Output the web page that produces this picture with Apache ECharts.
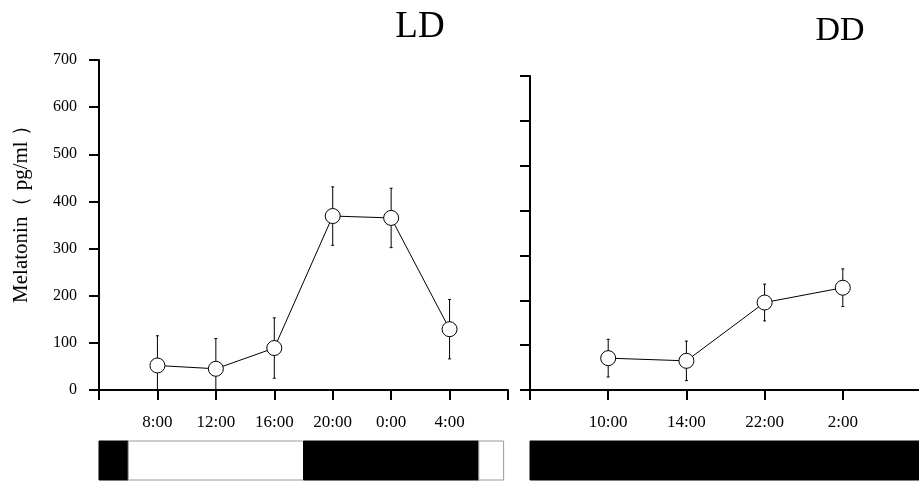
<!DOCTYPE html>
<html>
<head>
<meta charset="utf-8">
<script src="https://cdn.jsdelivr.net/npm/echarts@6.0.0/dist/echarts.min.js"></script>
<style>
    html, body { margin: 0; padding: 0; background: #fff; }
    #main { width: 919px; height: 481px; }
</style>
</head>
<body>
<div id="main"></div>
<script>
// LD 组（光照/黑暗）
var ldHours = [8, 12, 16, 20, 24, 28];
var ldTickLabels = ['8:00', '12:00', '16:00', '20:00', '0:00', '4:00'];
var ldMean = [52, 45, 89, 369, 365, 129];
var ldSem = [63, 64, 64, 62, 63, 63];

// DD 组（持续黑暗）
var ddPos = [1, 2, 3, 4];
var ddTickLabels = ['10:00', '14:00', '22:00', '2:00'];
var ddMean = [71, 65, 195, 228];
var ddSem = [42, 44, 41, 42];

// 光照条: [开始, 结束, 1=黑暗 0=光照]
var ldLightBars = [[4, 6, 1], [6, 18, 0], [18, 30, 1], [30, 31.7, 0]];
var ddLightBars = [[0, 5, 1]];

var serif = '"Liberation Serif", "DejaVu Serif", serif';

function errorBars(mean, sem, pos) {
    return pos.map(function (p, i) {
        return [p, mean[i] - sem[i], mean[i] + sem[i]];
    });
}

function renderErrorBar(params, api) {
    var x = api.value(0);
    var lo = Math.max(0, api.value(1));
    var hi = api.value(2);
    var top = api.coord([x, hi]);
    var bot = api.coord([x, lo]);
    var cap = 1.5;
    var st = { stroke: '#000', lineWidth: 1 };
    return {
        type: 'group',
        children: [
            { type: 'line', shape: { x1: top[0], y1: top[1], x2: bot[0], y2: bot[1] }, style: st },
            { type: 'line', shape: { x1: top[0] - cap, y1: top[1], x2: top[0] + cap, y2: top[1] }, style: st },
            { type: 'line', shape: { x1: bot[0] - cap, y1: bot[1], x2: bot[0] + cap, y2: bot[1] }, style: st }
        ]
    };
}

function renderLightBar(params, api) {
    var p1 = api.coord([api.value(0), 1]);
    var p2 = api.coord([api.value(1), 0]);
    var dark = api.value(2) === 1;
    return {
        type: 'rect',
        shape: { x: p1[0], y: p1[1], width: p2[0] - p1[0], height: p2[1] - p1[1] },
        style: dark ? { fill: '#000', stroke: '#000', lineWidth: 1 } : { fill: '#fff', stroke: '#9a9a9a', lineWidth: 1 }
    };
}

var axisLineStyle = { color: '#000', width: 2 };

var myChart = echarts.init(document.getElementById('main'));

var option = {
    animation: false,
    backgroundColor: '#fff',
    graphic: [
        { type: 'text', x: 420, y: 27, style: { text: 'LD', font: '37px ' + serif, fill: '#000', align: 'center', verticalAlign: 'middle' } },
        { type: 'text', x: 840, y: 31, style: { text: 'DD', font: '34px ' + serif, fill: '#000', align: 'center', verticalAlign: 'middle' } }
    ],
    grid: [
        { left: 99, top: 60, width: 409, height: 330, outerBoundsMode: 'none' },
        { left: 530, top: 76, width: 391, height: 314, outerBoundsMode: 'none' },
        { left: 99, top: 441, width: 409, height: 39, outerBoundsMode: 'none' },
        { left: 530, top: 441, width: 391, height: 39, outerBoundsMode: 'none' }
    ],
    xAxis: [
        {
            gridIndex: 0, type: 'value', min: 4, max: 32, interval: 4,
            axisLine: { lineStyle: axisLineStyle },
            axisTick: { length: 10, lineStyle: axisLineStyle },
            splitLine: { show: false },
            axisLabel: {
                margin: 24, color: '#000', fontFamily: serif, fontSize: 17,
                formatter: function (v) {
                    var i = ldHours.indexOf(v);
                    return i >= 0 ? ldTickLabels[i] : '';
                }
            }
        },
        {
            gridIndex: 1, type: 'value', min: 0, max: 5, interval: 1,
            axisLine: { lineStyle: axisLineStyle },
            axisTick: { length: 10, lineStyle: axisLineStyle },
            splitLine: { show: false },
            axisLabel: {
                margin: 24, color: '#000', fontFamily: serif, fontSize: 17,
                formatter: function (v) {
                    var i = ddPos.indexOf(v);
                    return i >= 0 ? ddTickLabels[i] : '';
                }
            }
        },
        { gridIndex: 2, type: 'value', min: 4, max: 32, show: false },
        { gridIndex: 3, type: 'value', min: 0, max: 5, show: false }
    ],
    yAxis: [
        {
            gridIndex: 0, type: 'value', min: 0, max: 700, interval: 100,
            name: 'Melatonin（ pg/ml ）',
            nameLocation: 'middle', nameGap: 67, nameRotate: 90,
            nameTextStyle: { color: '#000', fontFamily: serif, fontSize: 21, padding: [0, 0, 0, 32] },
            axisLine: { show: true, lineStyle: axisLineStyle },
            axisTick: { show: true, length: 10, lineStyle: axisLineStyle },
            splitLine: { show: false },
            axisLabel: { margin: 22, color: '#000', fontFamily: serif, fontSize: 16, padding: [0, 0, 14, 0] }
        },
        {
            gridIndex: 1, type: 'value', min: 0, max: 700, interval: 100,
            axisLine: { show: true, lineStyle: axisLineStyle },
            axisTick: { show: true, length: 10, lineStyle: axisLineStyle },
            splitLine: { show: false },
            axisLabel: { show: false }
        },
        { gridIndex: 2, type: 'value', min: 0, max: 1, show: false },
        { gridIndex: 3, type: 'value', min: 0, max: 1, show: false }
    ],
    series: [
        {
            type: 'custom', xAxisIndex: 0, yAxisIndex: 0, z: 1,
            renderItem: renderErrorBar,
            encode: { x: 0, y: [1, 2] },
            data: errorBars(ldMean, ldSem, ldHours)
        },
        {
            type: 'line', xAxisIndex: 0, yAxisIndex: 0, z: 3,
            symbol: 'circle', symbolSize: 15,
            itemStyle: { color: '#fff', borderColor: '#000', borderWidth: 1 },
            lineStyle: { color: '#000', width: 1 },
            data: ldHours.map(function (h, i) { return [h, ldMean[i]]; })
        },
        {
            type: 'custom', xAxisIndex: 1, yAxisIndex: 1, z: 1,
            renderItem: renderErrorBar,
            encode: { x: 0, y: [1, 2] },
            data: errorBars(ddMean, ddSem, ddPos)
        },
        {
            type: 'line', xAxisIndex: 1, yAxisIndex: 1, z: 3,
            symbol: 'circle', symbolSize: 15,
            itemStyle: { color: '#fff', borderColor: '#000', borderWidth: 1 },
            lineStyle: { color: '#000', width: 1 },
            data: ddPos.map(function (p, i) { return [p, ddMean[i]]; })
        },
        {
            type: 'custom', xAxisIndex: 2, yAxisIndex: 2,
            renderItem: renderLightBar,
            encode: { x: [0, 1] },
            data: ldLightBars
        },
        {
            type: 'custom', xAxisIndex: 3, yAxisIndex: 3,
            renderItem: renderLightBar,
            encode: { x: [0, 1] },
            data: ddLightBars
        }
    ]
};

myChart.setOption(option);
</script>
</body>
</html>
